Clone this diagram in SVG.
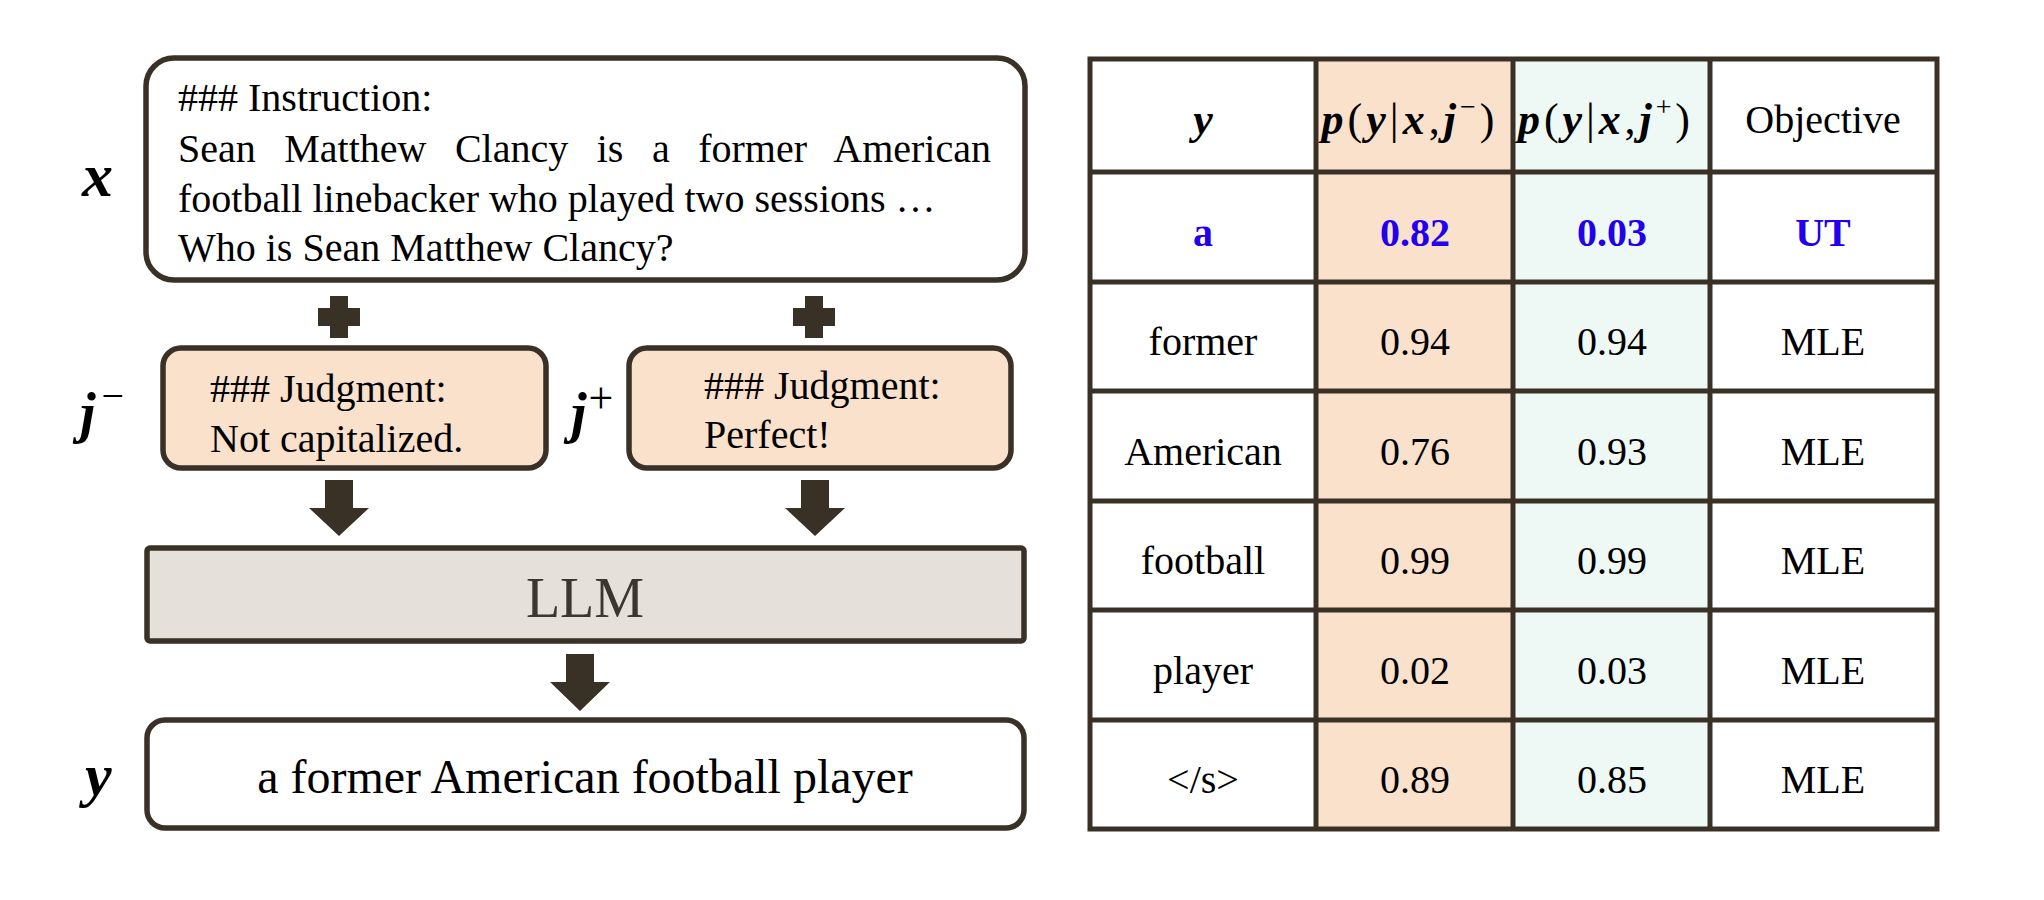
<svg xmlns="http://www.w3.org/2000/svg" width="2044" height="900" viewBox="0 0 2044 900">
<style>
.t{font-family:"Liberation Serif","Times New Roman",serif;font-size:40px;fill:#000}
.m{font-family:"Liberation Serif","Times New Roman",serif;font-weight:bold;font-style:italic;fill:#000}
.r{font-style:normal;font-weight:normal}
.c{text-anchor:middle}
.b{font-weight:bold;fill:#2200EE}
.box{stroke:#3a3126;stroke-width:5.5}
.grid{stroke:#3a3126;stroke-width:5;fill:none}
.arrow{fill:#3a3126}
</style>
<rect width="2044" height="900" fill="#fff"/>

<g id="node-x">
  <rect class="box" x="146" y="58" width="879" height="222" rx="28" fill="#fff"/>
  <text class="t" x="178" y="111">### Instruction:</text>
  <text class="t" x="178" y="162" word-spacing="18.5">Sean Matthew Clancy is a former American</text>
  <text class="t" x="178" y="212">football linebacker who played two sessions …</text>
  <text class="t" x="178" y="261">Who is Sean Matthew Clancy?</text>
  <text class="m" x="82" y="196" font-size="62">x</text>
</g>

<g id="node-jminus">
  <rect class="box" x="163" y="348" width="383" height="120" rx="18" fill="#FAE1CC"/>
  <text class="t" x="210" y="402">### Judgment:</text>
  <text class="t" x="210" y="452">Not capitalized.</text>
  <text class="m" x="80" y="432" font-size="56">j<tspan class="r" font-size="40" dy="-23" dx="6">−</tspan></text>
</g>

<g id="node-jplus">
  <rect class="box" x="629" y="348" width="382" height="120" rx="18" fill="#FAE1CC"/>
  <text class="t" x="704" y="399">### Judgment:</text>
  <text class="t" x="704" y="448">Perfect!</text>
  <text class="m" x="571" y="432" font-size="56">j<tspan class="r" font-size="44" dy="-19" dx="2">+</tspan></text>
</g>

<g id="node-llm">
  <rect class="box" x="147" y="548" width="877" height="93" rx="3" fill="#E5E1DA"/>
  <text class="t c" x="585" y="617" style="font-size:56px;fill:#3a3630">LLM</text>
</g>

<g id="node-y">
  <rect class="box" x="147" y="720" width="877" height="108" rx="18" fill="#fff"/>
  <text class="t c" x="585" y="793" style="font-size:48px">a former American football player</text>
  <text class="m" x="85" y="795" font-size="60">y</text>
</g>

<g id="connectors">
  <path class="arrow" d="M330 296h18v12h12v18h-12v12h-18v-12h-12v-18h12z"/>
  <path class="arrow" d="M805 296h18v12h12v18h-12v12h-18v-12h-12v-18h12z"/>
  <path class="arrow" d="M325 480h28v28h16l-30 28l-30 -28h16z"/>
  <path class="arrow" d="M801 480h28v28h16l-30 28l-30 -28h16z"/>
  <path class="arrow" d="M566 654h28v28h16l-30 29l-30 -29h16z"/>
</g>

<g id="table">
  <rect x="1316" y="59" width="197" height="770" fill="#FAE1CC"/>
  <rect x="1513" y="59" width="197" height="770" fill="#EEF8F4"/>
  <rect class="grid" x="1090" y="59" width="847" height="770"/>
  <path class="grid" d="M1316 59V829M1513 59V829M1710 59V829M1090 172H1937M1090 282H1937M1090 391H1937M1090 501H1937M1090 610H1937M1090 720H1937"/>

  <text class="m c" x="1203" y="134" font-size="44">y</text>
  <text class="m c" x="1408" y="134" font-size="44" textLength="173" lengthAdjust="spacing">p<tspan class="r">(</tspan>y<tspan class="r">|</tspan>x<tspan class="r">,</tspan>j<tspan class="r" font-size="28" dy="-18">−</tspan><tspan class="r" dy="18">)</tspan></text>
  <text class="m c" x="1604" y="134" font-size="44" textLength="172" lengthAdjust="spacing">p<tspan class="r">(</tspan>y<tspan class="r">|</tspan>x<tspan class="r">,</tspan>j<tspan class="r" font-size="28" dy="-18">+</tspan><tspan class="r" dy="18">)</tspan></text>
  <text class="t c" x="1823" y="133">Objective</text>

  <text class="t c b" x="1203" y="246">a</text>
  <text class="t c b" x="1415" y="246">0.82</text>
  <text class="t c b" x="1612" y="246">0.03</text>
  <text class="t c b" x="1823" y="246">UT</text>

  <text class="t c" x="1203" y="355">former</text>
  <text class="t c" x="1415" y="355">0.94</text>
  <text class="t c" x="1612" y="355">0.94</text>
  <text class="t c" x="1823" y="355">MLE</text>

  <text class="t c" x="1203" y="465">American</text>
  <text class="t c" x="1415" y="465">0.76</text>
  <text class="t c" x="1612" y="465">0.93</text>
  <text class="t c" x="1823" y="465">MLE</text>

  <text class="t c" x="1203" y="574">football</text>
  <text class="t c" x="1415" y="574">0.99</text>
  <text class="t c" x="1612" y="574">0.99</text>
  <text class="t c" x="1823" y="574">MLE</text>

  <text class="t c" x="1203" y="684">player</text>
  <text class="t c" x="1415" y="684">0.02</text>
  <text class="t c" x="1612" y="684">0.03</text>
  <text class="t c" x="1823" y="684">MLE</text>

  <text class="t c" x="1203" y="793">&lt;/s&gt;</text>
  <text class="t c" x="1415" y="793">0.89</text>
  <text class="t c" x="1612" y="793">0.85</text>
  <text class="t c" x="1823" y="793">MLE</text>
</g>
</svg>
